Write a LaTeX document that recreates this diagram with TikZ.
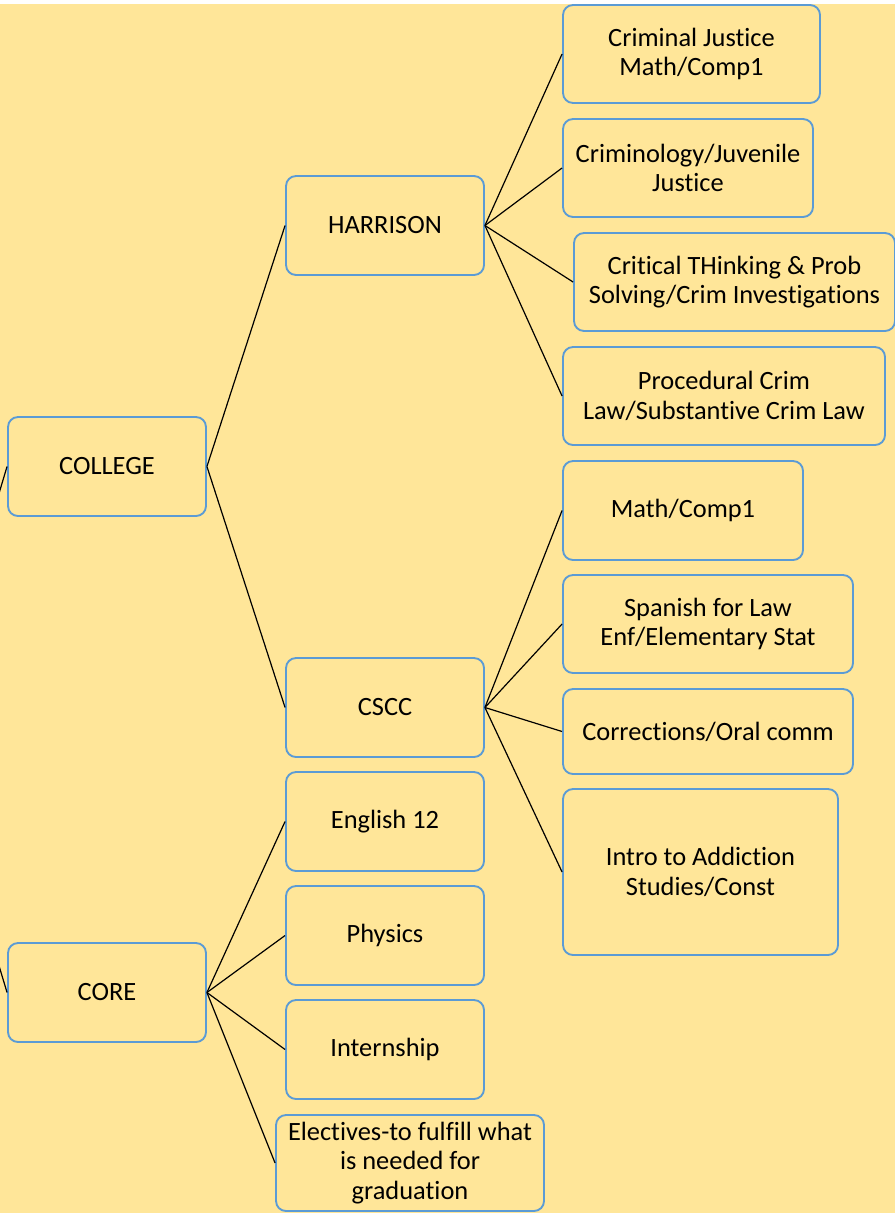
\documentclass[tikz,border=0pt]{standalone}
\usepackage{fontspec}
\setmainfont[Ligatures=NoCommon]{Carlito}

\begin{document}
\begin{tikzpicture}[x=0.75pt,y=-0.75pt,
	course/.style={draw=boxColor, line width=1.4pt, rounded corners=7.5pt,
		fill=bgColor, align=center, inner sep=0pt,
		font=\fontsize{19.8}{22}\selectfont},
	size/.style 2 args={minimum width=#1*0.75pt, minimum height=#2*0.75pt},
	link/.style={draw=lineColor, line width=0.9pt}]
% Colors
\definecolor{bgColor}{RGB}{255,230,153}
\definecolor{boxColor}{RGB}{91,155,213}
\definecolor{lineColor}{RGB}{0,0,0}
% Page and background
\clip(0,0) rectangle (895,1213);
\fill[white](0,0) rectangle (895,4);
\fill[bgColor](0,4) rectangle (895,1213);
% Root, off the page
\coordinate (root) at (-72,730);
% Left column
\node[course, size={198}{99}] (college) at (107,466.5) {COLLEGE};
\node[course, size={198}{99}] (core)    at (107,992.5) {CORE};
% Middle column
\node[course, size={198}{99}] (harrison) at (385, 225.5) {HARRISON};
\node[course, size={198}{99}] (cscc)     at (385, 707.5) {CSCC};
\node[course, size={198}{99}] (english)  at (385, 821.5) {English 12};
\node[course, size={198}{99}] (physics)  at (385, 935.5) {Physics};
\node[course, size={198}{99}] (intern)   at (385,1049.5) {Internship};
\node[course, size={268}{96}] (elective) at (410,1163)
	{Electives-to fulfill what\\is needed for\\graduation};
% Right column, HARRISON
\node[course, size={257}{98}] (crimjust)    at (691.5, 54) {Criminal Justice\\Math/Comp1};
\node[course, size={250}{98}] (criminology) at (688  ,168) {Criminology/Juvenile\\Justice};
\node[course, size={321}{98}] (critical)    at (734.5,282)
	{Critical THinking \& Prob\\Solving/Crim Investigations};
\node[course, size={322}{98}] (procedural)  at (724  ,396)
	{Procedural Crim\\Law/Substantive Crim Law};
% Right column, CSCC
\node[course, size={240}{99}]  (mathcomp)    at (683  ,510.5) {Math/Comp1};
\node[course, size={290}{98}]  (spanish)     at (708  ,624) {Spanish for Law\\Enf/Elementary Stat};
\node[course, size={290}{85}]  (corrections) at (708  ,731.5) {Corrections/Oral comm};
\node[course, size={275}{166}] (addiction)   at (700.5,872) {Intro to Addiction\\Studies/Const};
% Connectors
\begin{scope}[link]
	\draw(root) -- (college.west);
	\draw(root) -- (core.west);
	\foreach \kid in {harrison,cscc}
		\draw(college.east) -- (\kid.west);
	\foreach \kid in {english,physics,intern,elective}
		\draw(core.east) -- (\kid.west);
	\foreach \kid in {crimjust,criminology,critical,procedural}
		\draw(harrison.east) -- (\kid.west);
	\foreach \kid in {mathcomp,spanish,corrections,addiction}
		\draw(cscc.east) -- (\kid.west);
\end{scope}
\end{tikzpicture}
\end{document}
